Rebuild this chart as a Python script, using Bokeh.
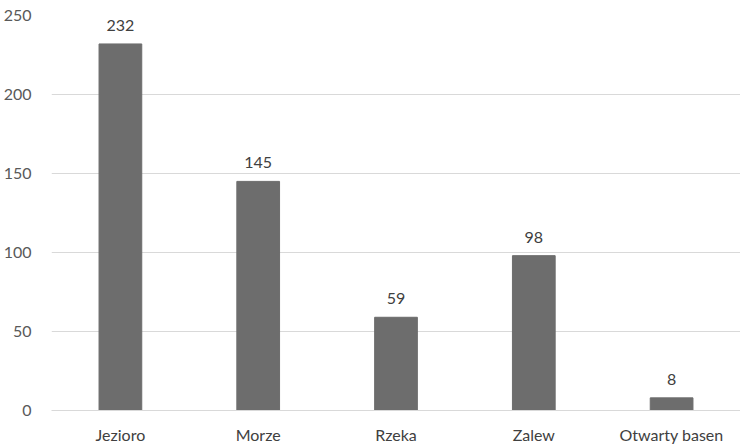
from bokeh.plotting import figure
from bokeh.models import ColumnDataSource, FixedTicker, LabelSet
from bokeh.core.properties import value
from bokeh.embed import file_html
from bokeh.resources import INLINE

categories = ["Jezioro", "Morze", "Rzeka", "Zalew", "Otwarty basen"]
values = [232, 145, 59, 98, 8]
y_ticks = [0, 50, 100, 150, 200, 250]

source = ColumnDataSource(data=dict(cat=categories, val=values, lbl=[str(v) for v in values]))

p = figure(x_range=categories, y_range=(0, 250), width=740, height=446,
           output_backend="svg", toolbar_location=None,
           min_border_left=49, min_border_right=0, min_border_top=15, min_border_bottom=35)
p.outline_line_color = None
p.background_fill_color = "white"
p.border_fill_color = "white"

p.vbar(x="cat", top="val", width=0.31, source=source, color="#6d6d6d")

labels = LabelSet(x="cat", y="val", text="lbl", source=source, text_align="center",
                  text_baseline="bottom", y_offset=13, text_font=value("Lato"),
                  text_font_size="16px", text_color="#404040")
p.add_layout(labels)

p.yaxis.ticker = FixedTicker(ticks=y_ticks)
p.yaxis.axis_line_color = None
p.yaxis.major_tick_line_color = None
p.yaxis.minor_tick_line_color = None
p.yaxis.major_label_standoff = 14
p.yaxis.major_label_text_font = "Lato"
p.yaxis.major_label_text_font_size = "16px"
p.yaxis.major_label_text_color = "#595959"

p.xaxis.axis_line_color = "#d9d9d9"
p.xaxis.axis_line_width = 1
p.xaxis.major_tick_line_color = None
p.xaxis.minor_tick_line_color = None
p.xaxis.major_label_standoff = 8
p.xaxis.major_label_text_font = "Lato"
p.xaxis.major_label_text_font_size = "16px"
p.xaxis.major_label_text_color = "#404040"

p.xgrid.grid_line_color = None
p.ygrid.grid_line_color = "#d9d9d9"
p.ygrid.grid_line_width = 1

open("out.html", "w").write(file_html(p, INLINE))
